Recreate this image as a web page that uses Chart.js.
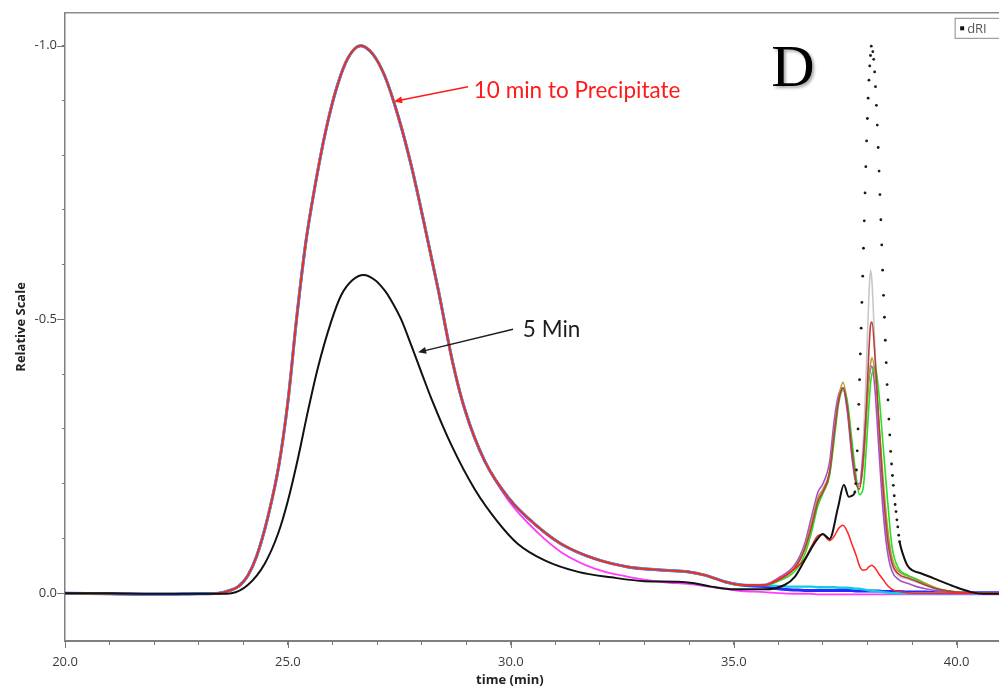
<!DOCTYPE html>
<html>
<head>
<meta charset="utf-8">
<script src="https://cdn.jsdelivr.net/npm/chart.js@4.4.0/dist/chart.umd.min.js"></script>
<style>
  html, body { margin: 0; padding: 0; background: #fff; }
  #wrap { width: 999px; height: 688px; overflow: hidden; }
</style>
</head>
<body>
<div id="wrap"><canvas id="mycanvas" width="999" height="688"></canvas></div>
<script>
// elution time (min) for the main polymer peak and its tail
var mainTime = [20, 21, 22, 23, 23.45, 23.7, 23.9, 24.1, 24.3, 24.55, 24.8, 25.0, 25.2, 25.4, 25.6, 25.85, 26.1, 26.35, 26.63, 26.9,
	27.17, 27.47, 27.77, 28.07, 28.37, 28.7, 28.97, 29.41, 29.94, 30.61, 31.13, 31.88, 32.63, 33.45, 33.97, 34.35, 34.8, 35.17];
// 10 min runs overlap almost exactly on the main peak
var peakMain = [0, 0.001, 0.002, 0.001, 0, -0.005, -0.013, -0.032, -0.068, -0.139, -0.235, -0.35, -0.505, -0.64, -0.74, -0.845, -0.925, -0.978, -1.0, -0.985,
	-0.945, -0.872, -0.78, -0.67, -0.555, -0.42, -0.335, -0.242, -0.175, -0.121, -0.09, -0.063, -0.048, -0.042, -0.039, -0.033, -0.021, -0.015];
var peakMagenta = [0, 0.001, 0.002, 0.001, 0, -0.005, -0.013, -0.032, -0.068, -0.139, -0.235, -0.35, -0.505, -0.64, -0.74, -0.845, -0.925, -0.978, -1.0, -0.985,
	-0.945, -0.872, -0.78, -0.67, -0.555, -0.42, -0.335, -0.242, -0.17, -0.11, -0.075, -0.045, -0.03, -0.02, -0.017, -0.013, -0.008, -0.004];

// late eluting (salt / small molecule) region
var lateTime = [35.69, 36.0, 36.37, 36.59, 36.74, 36.89, 37.0, 37.15, 37.26, 37.35, 37.45, 37.55, 37.65, 37.75, 37.82, 37.9, 37.97,
	38.03, 38.07, 38.1, 38.17, 38.25, 38.35, 38.45, 38.55, 38.7, 38.9, 39.1, 39.3, 39.6, 40.0, 40.5, 40.95];
var lateOlive = [-0.015, -0.025, -0.048, -0.084, -0.127, -0.175, -0.19, -0.224, -0.30, -0.355, -0.385, -0.345, -0.265, -0.205, -0.195, -0.23, -0.31,
	-0.39, -0.42, -0.43, -0.40, -0.32, -0.21, -0.12, -0.065, -0.04, -0.032, -0.026, -0.018, -0.008, -0.002, 0, 0];
var lateGreen = [-0.015, -0.022, -0.04, -0.07, -0.11, -0.16, -0.182, -0.215, -0.285, -0.345, -0.372, -0.35, -0.28, -0.21, -0.18, -0.19, -0.26,
	-0.34, -0.385, -0.40, -0.415, -0.37, -0.27, -0.17, -0.085, -0.045, -0.033, -0.025, -0.016, -0.007, -0.002, 0, 0];
var latePurple = [-0.016, -0.028, -0.052, -0.09, -0.138, -0.185, -0.20, -0.24, -0.32, -0.362, -0.375, -0.33, -0.25, -0.20, -0.20, -0.25, -0.33,
	-0.39, -0.41, -0.415, -0.37, -0.27, -0.15, -0.075, -0.04, -0.025, -0.018, -0.012, -0.008, -0.004, -0.001, 0, 0];
var lateDarkRed = [-0.015, -0.024, -0.046, -0.08, -0.12, -0.168, -0.185, -0.22, -0.295, -0.35, -0.375, -0.34, -0.26, -0.2, -0.19, -0.24, -0.33,
	-0.44, -0.49, -0.495, -0.43, -0.32, -0.19, -0.1, -0.055, -0.035, -0.028, -0.022, -0.015, -0.007, -0.002, 0, 0];
var lateGray = [-0.015, -0.024, -0.046, -0.08, -0.12, -0.168, -0.185, -0.22, -0.295, -0.35, -0.37, -0.335, -0.255, -0.2, -0.2, -0.27, -0.4,
	-0.54, -0.59, -0.57, -0.44, -0.3, -0.17, -0.09, -0.05, -0.032, -0.026, -0.02, -0.014, -0.006, -0.002, 0, 0];
var lateRed = [-0.015, -0.025, -0.045, -0.062, -0.085, -0.105, -0.107, -0.096, -0.105, -0.118, -0.124, -0.112, -0.09, -0.068, -0.05, -0.042, -0.043,
	-0.048, -0.05, -0.051, -0.046, -0.036, -0.025, -0.014, -0.007, -0.003, -0.001, 0, 0, 0, 0, 0, 0];
var lateBlue = [-0.012, -0.008, -0.006, -0.005, -0.005, -0.005, -0.005, -0.005, -0.005, -0.005, -0.005, -0.005, -0.005, -0.004, -0.004, -0.004, -0.004,
	-0.004, -0.004, -0.004, -0.004, -0.004, -0.003, -0.003, -0.003, -0.003, -0.002, -0.002, -0.002, -0.001, -0.001, -0.001, -0.001];
var lateCyan = [-0.015, -0.013, -0.012, -0.012, -0.012, -0.011, -0.011, -0.011, -0.011, -0.01, -0.01, -0.01, -0.009, -0.008, -0.008, -0.007, -0.006,
	-0.005, -0.005, -0.004, -0.004, -0.003, -0.002, -0.001, 0, 0, 0, 0, 0, 0, 0, 0, 0];
var lateMagenta = [-0.002, 0, 0.001, 0.001, 0.001, 0.002, 0.002, 0.002, 0.002, 0.002, 0.002, 0.002, 0.002, 0.002, 0.002, 0.002, 0.002,
	0.002, 0.002, 0.002, 0.002, 0.002, 0.002, 0.002, 0.002, 0.002, 0.002, 0.002, 0.002, 0.002, 0.002, 0.002, 0.002];

// dRI trace of the 5 min run
var riTime = [20, 21, 22, 23, 23.5, 23.73, 24.1, 24.48, 24.78, 25.0, 25.23, 25.45, 25.67, 25.97, 26.2, 26.45, 26.7, 26.95, 27.17, 27.3,
	27.54, 27.77, 28.0, 28.22, 28.67, 29.19, 29.71, 30.16, 30.76, 31.51, 32.25, 33.0, 33.75, 34.12, 34.5, 35.02, 35.69, 36.14, 36.37, 36.59, 36.85,
	37.0, 37.15, 37.34, 37.47, 37.58, 37.65];
var riValue = [0, 0, 0.001, 0.001, 0.001, 0, -0.015, -0.054, -0.109, -0.169, -0.248, -0.333, -0.411, -0.496, -0.545, -0.572, -0.581, -0.572, -0.553, -0.537,
	-0.5, -0.452, -0.402, -0.355, -0.27, -0.19, -0.13, -0.09, -0.06, -0.039, -0.029, -0.022, -0.021, -0.018, -0.012, -0.007, -0.007, -0.015, -0.03, -0.06, -0.096,
	-0.108, -0.099, -0.157, -0.198, -0.176, -0.178];
// sharp peak near 38 min, samples show up as separate dots
var spikeTime = [37.718, 37.735, 37.753, 37.770, 37.788, 37.805, 37.823, 37.840, 37.858, 37.875, 37.893, 37.910, 37.928, 37.945, 37.963, 37.980,
	37.998, 38.015, 38.033, 38.050, 38.068, 38.085,
	38.12, 38.14, 38.16, 38.18, 38.20, 38.22, 38.24, 38.26, 38.28, 38.30, 38.32, 38.34, 38.36, 38.38, 38.40, 38.42, 38.44, 38.46, 38.48, 38.50,
	38.52, 38.54, 38.56, 38.58, 38.60, 38.62, 38.64, 38.66, 38.68, 38.70, 38.72];
var spikeValue = [-0.185, -0.2, -0.225, -0.26, -0.30, -0.345, -0.39, -0.437, -0.484, -0.531, -0.579, -0.63, -0.68, -0.731, -0.779, -0.826,
	-0.867, -0.904, -0.937, -0.963, -0.982, -0.999,
	-0.989, -0.975, -0.952, -0.925, -0.891, -0.855, -0.814, -0.771, -0.728, -0.682, -0.636, -0.590, -0.544, -0.504, -0.462, -0.421, -0.381, -0.353, -0.318, -0.289,
	-0.259, -0.236, -0.215, -0.197, -0.178, -0.162, -0.149, -0.134, -0.121, -0.106, -0.094];
var riTailTime = [38.8, 38.9, 39.0, 39.21, 39.4, 39.58, 39.95, 40.33, 40.6, 40.95];
var riTailValue = [-0.07, -0.05, -0.042, -0.036, -0.03, -0.024, -0.012, -0.002, 0.001, 0.001];

// axis ticks
var xTicks = [20, 21, 22, 23, 24, 25, 26, 27, 28, 29, 30, 31, 32, 33, 34, 35, 36, 37, 38, 39, 40];
var xLabelled = [20, 25, 30, 35, 40];
var yTicks = [-1.0, -0.9, -0.8, -0.7, -0.6, -0.5, -0.4, -0.3, -0.2, -0.1, 0.0];
var yLabelled = [-1.0, -0.5, 0.0];

var tickFont = "'Open Sans', sans-serif";

function pts(t, v) {
	var out = [];
	for (var i = 0; i < t.length; i++) out.push({x: t[i], y: v[i]});
	return out;
}

// black dRI: line where samples are dense, dots through the spike
var riData = pts(riTime, riValue).concat(pts(spikeTime, spikeValue), pts(riTailTime, riTailValue));
var isDot = riData.map(function(p, i) {
	return i >= riTime.length && i < riTime.length + spikeTime.length;
});

function trace(label, color, width, main, late) {
	return {
		label: label,
		data: pts(mainTime, main).concat(pts(lateTime, late)),
		borderColor: color,
		borderWidth: width,
		pointRadius: 0,
		cubicInterpolationMode: 'monotone',
		fill: false
	};
}

var datasets = [
	{
		label: 'dRI',
		data: riData,
		borderColor: '#111',
		backgroundColor: '#111',
		borderWidth: 2,
		pointStyle: 'circle',
		pointRadius: function(c) { return isDot[c.dataIndex] ? 1.4 : 0; },
		pointBackgroundColor: '#1a1a1a',
		pointBorderWidth: 0,
		cubicInterpolationMode: 'monotone',
		segment: {
			borderColor: function(c) {
				return (isDot[c.p0DataIndex] && isDot[c.p1DataIndex]) ? 'rgba(0,0,0,0)' : undefined;
			}
		}
	},
	trace('red', '#ff2424', 1.5, peakMain, lateRed),
	trace('dark red', '#b8403c', 1.6, peakMain, lateDarkRed),
	trace('green', '#26e026', 1.6, peakMain, lateGreen),
	trace('olive', '#b89a3a', 1.6, peakMain, lateOlive),
	trace('purple', '#a650cc', 1.6, peakMain, latePurple),
	trace('grey', '#c8c8c8', 1.6, peakMain, lateGray),
	trace('cyan', '#14cbe6', 2.4, peakMain, lateCyan),
	trace('blue', '#2a2aff', 3, peakMain, lateBlue),
	trace('magenta', '#ff3cff', 1.8, peakMagenta, lateMagenta)
];

// text and arrows placed in data coordinates
var notes = [
	{text: '10 min to Precipitate', color: '#ff1a1a', at: [29.17, -0.918], tail: [29.04, -0.925], tip: [27.38, -0.898]},
	{text: '5 Min', color: '#1e1e1e', at: [30.27, -0.482], tail: [30.05, -0.482], tip: [27.92, -0.44]}
];

function isIn(list, v) {
	for (var i = 0; i < list.length; i++) if (Math.abs(list[i] - v) < 1e-6) return true;
	return false;
}

var decor = {
	id: 'decor',
	afterDraw: function(chart) {
		var ctx = chart.ctx, a = chart.chartArea, x = chart.scales.x, y = chart.scales.y;
		ctx.save();
		// frame on top
		ctx.strokeStyle = '#8c8c8c';
		ctx.lineWidth = 1.5;
		ctx.beginPath();
		ctx.moveTo(a.left, a.top);
		ctx.lineTo(a.right, a.top);
		ctx.stroke();

		// longer marks on labelled ticks
		ctx.strokeStyle = '#777';
		ctx.lineWidth = 1;
		ctx.beginPath();
		xLabelled.forEach(function(v) {
			var px = Math.round(x.getPixelForValue(v)) + 0.5;
			ctx.moveTo(px, a.bottom);
			ctx.lineTo(px, a.bottom + 7);
		});
		yLabelled.forEach(function(v) {
			var py = Math.round(y.getPixelForValue(v)) + 0.5;
			ctx.moveTo(a.left - 8, py);
			ctx.lineTo(a.left, py);
		});
		ctx.stroke();

		// x axis title
		ctx.fillStyle = '#222';
		ctx.font = "bold 13px " + tickFont;
		ctx.textAlign = 'center';
		ctx.textBaseline = 'middle';
		ctx.fillText('time (min)', x.getPixelForValue(30) - 1, 680);

		// annotations
		notes.forEach(function(n) {
			var tx = x.getPixelForValue(n.tail[0]), ty = y.getPixelForValue(n.tail[1]);
			var hx = x.getPixelForValue(n.tip[0]), hy = y.getPixelForValue(n.tip[1]);
			var ang = Math.atan2(hy - ty, hx - tx);
			ctx.strokeStyle = n.color;
			ctx.fillStyle = n.color;
			ctx.lineWidth = 1.5;
			ctx.beginPath();
			ctx.moveTo(tx, ty);
			ctx.lineTo(hx - 6 * Math.cos(ang), hy - 6 * Math.sin(ang));
			ctx.stroke();
			ctx.beginPath();
			ctx.moveTo(hx, hy);
			ctx.lineTo(hx - 8 * Math.cos(ang) + 3.5 * Math.sin(ang), hy - 8 * Math.sin(ang) - 3.5 * Math.cos(ang));
			ctx.lineTo(hx - 8 * Math.cos(ang) - 3.5 * Math.sin(ang), hy - 8 * Math.sin(ang) + 3.5 * Math.cos(ang));
			ctx.closePath();
			ctx.fill();
			ctx.font = "22.5px Lato, sans-serif";
			ctx.textAlign = 'left';
			ctx.textBaseline = 'middle';
			ctx.fillText(n.text, x.getPixelForValue(n.at[0]), y.getPixelForValue(n.at[1]));
		});

		// panel letter
		ctx.save();
		ctx.shadowColor = 'rgba(0,0,0,0.35)';
		ctx.shadowBlur = 3;
		ctx.shadowOffsetX = 2;
		ctx.shadowOffsetY = 2;
		ctx.fillStyle = '#000';
		ctx.font = "60px 'Liberation Serif', serif";
		ctx.textAlign = 'left';
		ctx.textBaseline = 'alphabetic';
		ctx.fillText('D', x.getPixelForValue(35.84), y.getPixelForValue(-0.927));
		ctx.restore();

		// legend box for the dRI trace, top right corner
		var ri = chart.data.datasets[0];
		var lx = x.getPixelForValue(40.0) - 1.5, ly = a.top + 5.5;
		ctx.strokeStyle = '#8a8a8a';
		ctx.lineWidth = 1;
		ctx.fillStyle = '#fff';
		ctx.fillRect(lx, ly, 50, 20);
		ctx.strokeRect(lx, ly, 50, 20);
		ctx.fillStyle = ri.borderColor;
		ctx.fillRect(lx + 5, ly + 8, 4, 4);
		ctx.fillStyle = '#555';
		ctx.font = "13px " + tickFont;
		ctx.textAlign = 'left';
		ctx.textBaseline = 'middle';
		ctx.fillText(ri.label, lx + 12, ly + 10.5);
		ctx.restore();
	}
};

var ctx = document.getElementById('mycanvas');
var chart = new Chart(ctx, {
	type: 'line',
	data: {datasets: datasets},
	plugins: [decor],
	options: {
		responsive: false,
		animation: false,
		layout: {padding: {top: 10, right: 0, bottom: 0, left: 0}},
		plugins: {
			legend: {display: false},
			tooltip: {enabled: false}
		},
		scales: {
			x: {
				type: 'linear',
				min: 20,
				max: 40.95,
				afterBuildTicks: function(s) { s.ticks = xTicks.map(function(v) { return {value: v}; }); },
				afterFit: function(s) { s.height = 47; },
				ticks: {
					autoSkip: false,
					maxRotation: 0,
					padding: 9,
					color: '#3a3a3a',
					font: {family: tickFont, size: 13},
					callback: function(v) { return isIn(xLabelled, v) ? v.toFixed(1) : ''; }
				},
				grid: {display: true, drawOnChartArea: false, drawTicks: true, tickLength: 4, tickColor: '#777'},
				border: {display: true, color: '#7f7f7f', width: 2}
			},
			y: {
				type: 'linear',
				min: -1.06,
				max: 0.0873,
				reverse: true,
				afterBuildTicks: function(s) { s.ticks = yTicks.map(function(v) { return {value: v}; }); },
				afterFit: function(s) { s.width = 65; },
				ticks: {
					autoSkip: false,
					padding: 5,
					color: '#3a3a3a',
					font: {family: tickFont, size: 13},
					callback: function(v) { return isIn(yLabelled, v) ? v.toFixed(1) : ''; }
				},
				title: {
					display: true,
					text: 'Relative Scale',
					color: '#222',
					font: {family: tickFont, size: 13, weight: 'bold'},
					padding: {top: 13, bottom: 0}
				},
				grid: {display: true, drawOnChartArea: false, drawTicks: true, tickLength: 3, tickColor: '#777'},
				border: {display: true, color: '#7f7f7f', width: 1.5}
			}
		}
	}
});
</script>
</body>
</html>
